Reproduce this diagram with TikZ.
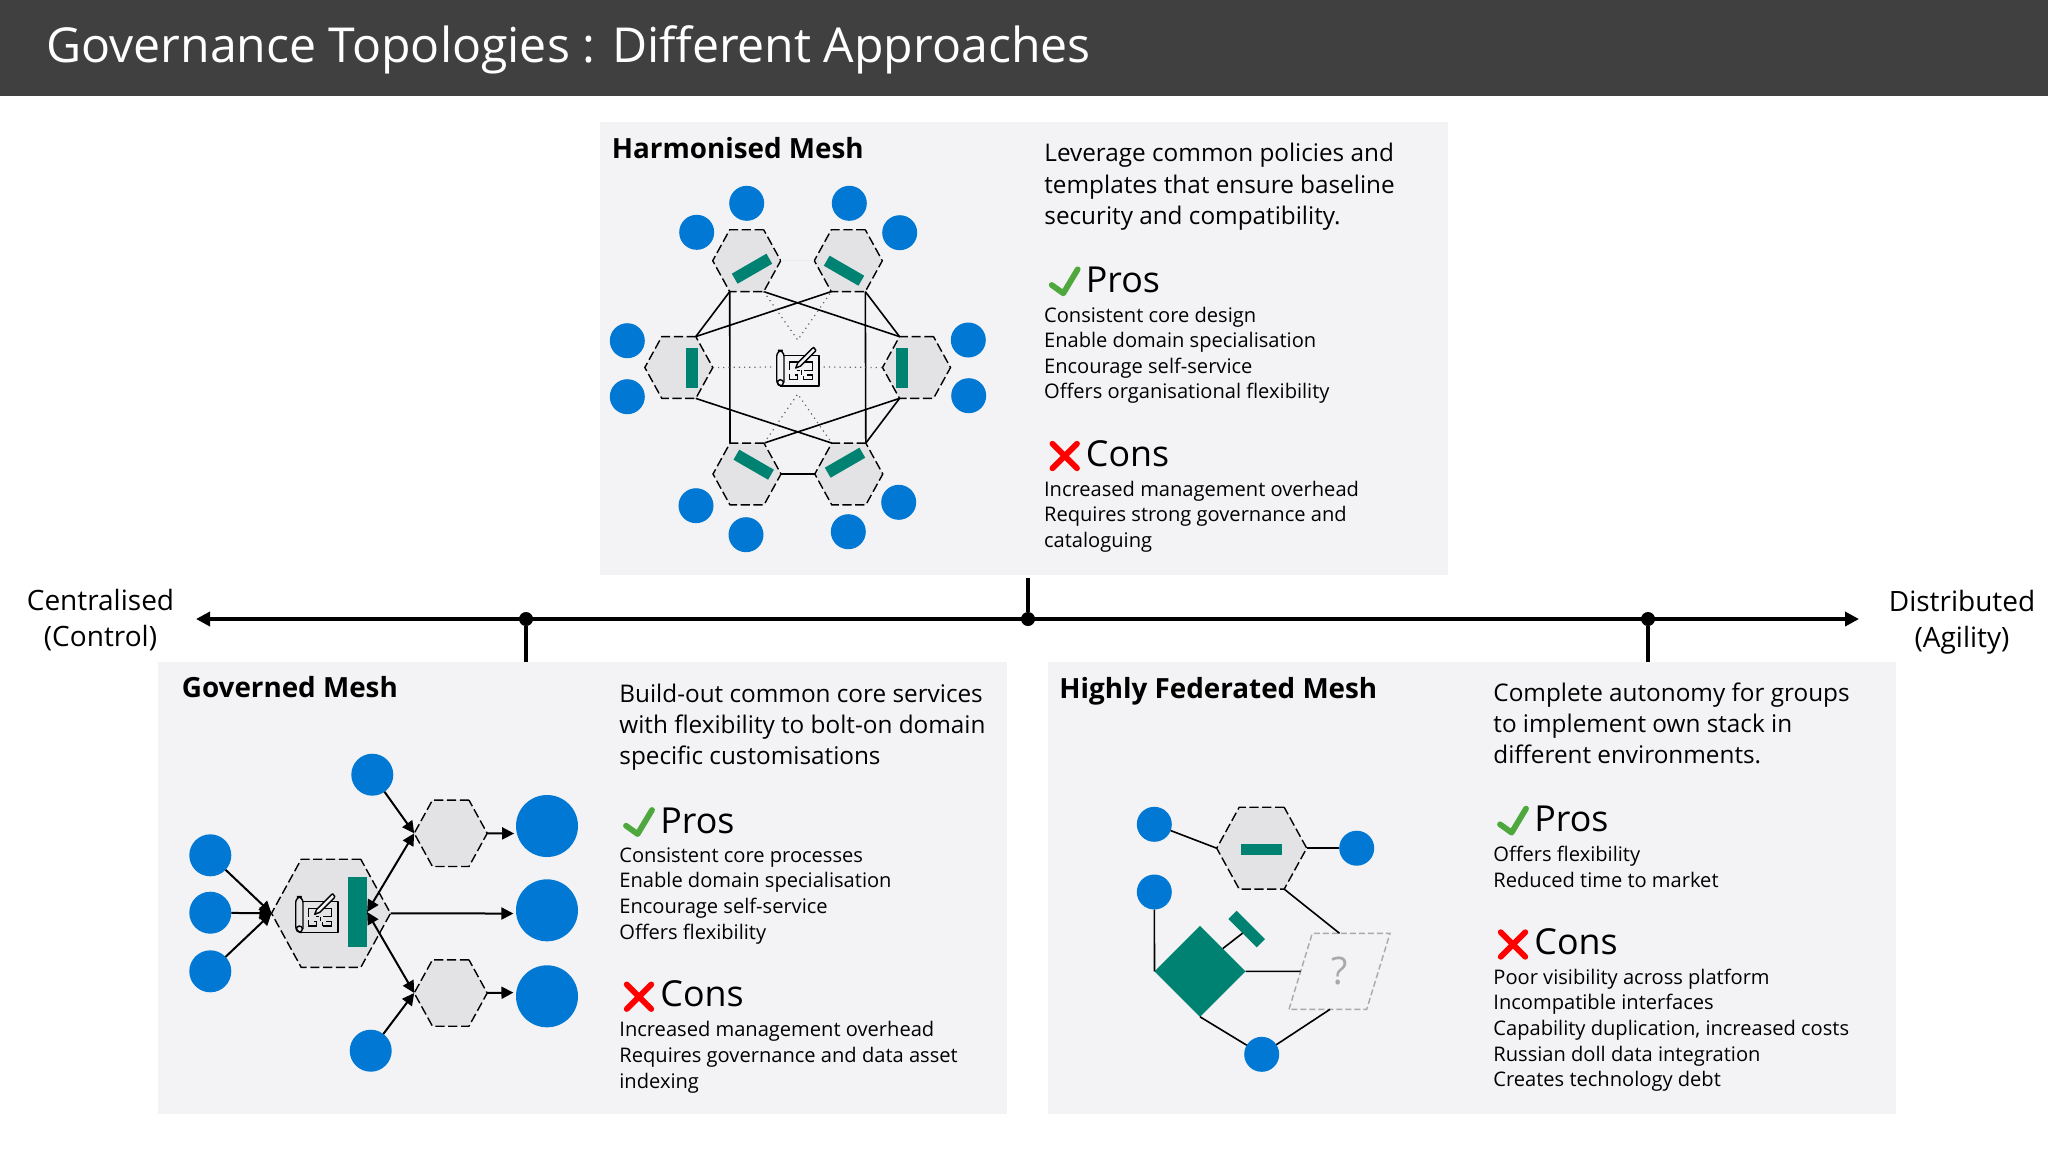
\documentclass[tikz,border=0pt]{standalone}
\usepackage{fontspec}
\usepackage{xcolor}
\usetikzlibrary{arrows.meta,shapes.geometric,calc}
\setmainfont{Open Sans}
\definecolor{titlebar}{HTML}{404040}
\definecolor{panelbg}{HTML}{F3F3F5}
\definecolor{hexbg}{HTML}{E3E3E5}
\definecolor{meshblue}{HTML}{0078D4}
\definecolor{meshgreen}{HTML}{008272}
\definecolor{okgreen}{HTML}{4FA83D}
\definecolor{unknown}{HTML}{A9A9A9}
\tikzset{
  panel/.style={rectangle, fill=panelbg, inner sep=0pt, outer sep=0pt},
  hexa/.style={regular polygon, regular polygon sides=6, draw=black,
    fill=hexbg, line width=0.7pt, dash pattern=on 4.6pt off 1.8pt, inner sep=0pt, outer sep=0pt,
    minimum size=#1, transform shape, yscale=1.05},
  bubble/.style={circle, fill=meshblue, inner sep=0pt, outer sep=0pt, minimum size=#1},
  greenbar/.style={rectangle, fill=meshgreen, inner sep=0pt, outer sep=0pt},
  conn/.style={draw=black, line width=0.8pt},
  guide/.style={draw=black!60, line width=0.6pt, dotted},
  flow/.style={draw=black, line width=1pt, -{Triangle[length=6pt,width=6pt]}},
  axisline/.style={draw=black, line width=2pt},
  axisdot/.style={circle, fill=black, inner sep=0pt, outer sep=0pt, minimum size=7pt},
  heading/.style={anchor=base west, inner sep=0pt, font=\fontsize{13.9}{16}\selectfont\bfseries},
  blurb/.style={anchor=north west, align=left, inner sep=0pt, font=\fontsize{12.15}{15.6}\selectfont},
  proshead/.style={anchor=base west, inner sep=0pt, font=\fontsize{17.9}{20}\selectfont},
  listing/.style={anchor=north west, align=left, inner sep=0pt, font=\fontsize{10.05}{12.8}\selectfont},
  axislab/.style={align=center, inner sep=0pt, font=\fontsize{14}{18}\selectfont},
  okmark/.pic={\draw[okgreen, line width=2.9pt, line cap=round, line join=round]
    (7,-6.7) -- (18.6,1.6) -- (33,-22.4);},
  nomark/.pic={\draw[red, line width=2.9pt, line cap=round]
    (7.7,-22.3) -- (32.3,2.3) (32.3,-22.3) -- (7.7,2.3);},
  planmark/.pic={
    \draw[line width=0.7pt, line join=round]
      (-13.7,-11.7) -- (21.3,-11.7) -- (21.3,19) -- (-17.3,19);
    \draw[line width=0.7pt, rounded corners=3pt]
      (-13.7,15.7) -- (-13.7,-16.7) -- (-21,-16.7) -- (-21,19) -- (-17.3,19);
    \draw[line width=0.7pt] (-17.3,15.7) circle[radius=3];
    \draw[line width=0.7pt]
      (-8.3,3.3) -- (-8.3,-5) -- (15,-5) -- (15,3.3) -- (6,3.3)
      (2,3.3) -- (-1,3.3) (3.5,3.3) -- (3.5,8)
      (-8.3,7) -- (-8.3,12.7) -- (0,12.7) -- (0,8) -- (-3,8)
      (6,12.7) -- (15,12.7) -- (15,8) -- (9,8) (6,12.7) -- (6,9);
    \draw[line width=0.7pt, fill=panelbg, line join=round]
      (-2,1) -- (0,-4) -- (14.5,-18.5) -- (16,-19.5) -- (18,-17) -- (17.5,-15.5) -- (3,-1) -- cycle;
  },
}

\begin{document}
\begin{tikzpicture}[x=0.5pt, y=-0.5pt]
  \useasboundingbox (0,0) rectangle (2048,1152);

  % title
  \fill[titlebar] (0,0) rectangle (2048,96);
  \node[anchor=west, inner sep=0pt, text=white, font=\fontsize{24.1}{30}\selectfont] (mainTitle) at (46,50) {Governance Topologies : Different Approaches};

  % panels
  \node[panel, minimum width=424pt, minimum height=226.5pt] (panelH) at (1024,348.5) {};
  \node[panel, minimum width=424.5pt, minimum height=226pt] (panelG) at (582.5,888) {};
  \node[panel, minimum width=424pt, minimum height=226pt] (panelF) at (1471.5,888) {};

  % centralised - distributed axis
  \coordinate (axisL) at (196,619);
  \coordinate (axisR) at (1859,619);
  \draw[axisline, {Triangle[length=7pt,width=7pt]}-{Triangle[length=7pt,width=7pt]}] (axisL) -- (axisR);
  \node[axisdot] (dotG) at (526,619) {};
  \node[axisdot] (dotH) at (1028,619) {};
  \node[axisdot] (dotF) at (1648,619) {};
  \draw[axisline] (dotG) -- (dotG |- panelG.north);
  \draw[axisline] (dotH) -- ($(dotH |- panelH.south)+(0,3)$);
  \draw[axisline] (dotF) -- (dotF |- panelF.north);
  \node[axislab] (labL) at (100.5,620) {Centralised\\(Control)};
  \node[axislab] (labR) at (1962,622) {Distributed\\(Agility)};

  % harmonised mesh
  \foreach \nm/\x/\y in {hxTL/746.7/260.7, hxTR/848.3/260.7, hxL/678.8/367.5, hxR/916.5/367.5, hxBL/747/474, hxBR/848.8/474}
    \node[hexa=34pt] (\nm) at (\x,\y) {};
  \foreach \nm/\x/\y in {h1/746.7/203.3, h2/696.7/232.3, h3/849.3/203.3, h4/899.7/232.7, h5/627.3/340.7, h6/627.3/396.7,
    h7/968.3/340, h8/968.7/395.7, h9/696/505.7, h10/746/534.7, h11/898.7/502.3, h12/848.3/531.7}
    \node[bubble=17.5pt] (\nm) at (\x,\y) {};
  \foreach \nm/\x/\y/\r in {barTL/752/268.7/30, barTR/844/270.7/-30, barL/691.7/368.3/90, barR/902/368.3/90, barBL/753.7/464.7/-30, barBR/845/462.7/30}
    \node[greenbar, minimum width=20pt, minimum height=5.8pt, rotate=\r] (\nm) at (\x,\y) {};
  \node[minimum width=26pt, minimum height=27pt, inner sep=0pt, outer sep=0pt] (planC) at (797.7,367) {};
  \pic at (planC.center) {planmark};

  \draw[conn] (hxTL.corner 4) -- (hxL.corner 1);
  \draw[conn] (hxTL.corner 4) -- (hxBL.corner 2);
  \draw[conn] (hxTL.corner 5) -- (hxR.corner 2);
  \draw[conn] (hxTR.corner 4) -- (hxL.corner 1);
  \draw[conn] (hxTR.corner 5) -- (hxR.corner 2);
  \draw[conn] (hxTR.corner 5) -- (hxBR.corner 1);
  \draw[conn] (hxL.corner 5) -- (hxBR.corner 2);
  \draw[conn] (hxR.corner 4) -- (hxBL.corner 1);
  \draw[conn] (hxR.corner 4) -- (hxBR.corner 1);
  \draw[conn] (hxBL.corner 6) -- (hxBR.corner 3);
  \draw[guide] (hxTL.corner 5) -- (planC.north) -- (hxTR.corner 4);
  \draw[guide] (hxBL.corner 1) -- (planC.south) -- (hxBR.corner 2);
  \draw[guide] (hxL.corner 6) -- (planC.west);
  \draw[guide] (planC.east) -- (hxR.corner 3);
  \draw[draw=black!8, line width=0.5pt] (hxTL.corner 6) -- (hxTR.corner 3);

  \node[heading] (titleH) at (611.5,158) {Harmonised Mesh};
  \node[blurb] (blurbH) at (1044,143) {Leverage common policies and\\templates that ensure baseline\\security and compatibility.};
  \pic at (1044.7,291.7) {okmark};
  \node[proshead] (prosH) at (1085.5,292.5) {Pros};
  \node[listing] (prosListH) at (1043.7,306.5) {Consistent core design\\Enable domain specialisation\\Encourage self-service\\Offers organisational flexibility};
  \pic at (1044.7,466) {nomark};
  \node[proshead] (consH) at (1085.5,466) {Cons};
  \node[listing] (consListH) at (1043.7,480.5) {Increased management overhead\\Requires strong governance and\\cataloguing};

  % governed mesh
  \node[hexa=59.5pt] (hxM) at (331,913.3) {};
  \node[hexa=36.5pt] (hxU) at (450.7,833.3) {};
  \node[hexa=36.5pt] (hxD) at (450.7,993) {};
  \foreach \nm/\x/\y in {gL1/210.3/855.3, gL2/210.3/912.7, gL3/210.3/971.3, gT/372.3/774.7, gB/370.7/1050.7}
    \node[bubble=21pt] (\nm) at (\x,\y) {};
  \foreach \nm/\x/\y in {gR1/547/826, gR2/547/910.3, gR3/547/996.3}
    \node[bubble=31pt] (\nm) at (\x,\y) {};
  \node[greenbar, minimum width=9.4pt, minimum height=35.4pt] (barM) at (357.7,912) {};
  \pic at (316.7,913.3) {planmark};

  \draw[flow] (gL1) -- (hxM.corner 3);
  \draw[flow] (gL2) -- (hxM.corner 3);
  \draw[flow] (gL3) -- (hxM.corner 3);
  \draw[flow] (gT) -- (hxU.corner 3);
  \draw[flow] (gB) -- (hxD.corner 3);
  \draw[flow, {Triangle[length=6pt,width=6pt]}-{Triangle[length=6pt,width=6pt]}] (barM.east) -- (hxU.corner 3);
  \draw[flow, {Triangle[length=6pt,width=6pt]}-{Triangle[length=6pt,width=6pt]}] (barM.east) -- (hxD.corner 3);
  \draw[flow, shorten >=1.4pt] (hxM.corner 6) -- (gR2.-174.5);
  \draw[flow, shorten >=1.4pt] (hxU.corner 6) -- (gR1.-166.3);
  \draw[flow, shorten >=1.4pt] (hxD.corner 6) -- (gR3.173.8);

  \node[heading] (titleG) at (181.5,697) {Governed Mesh};
  \node[blurb] (blurbG) at (619,683.5) {Build-out common core services\\with flexibility to bolt-on domain\\specific customisations};
  \pic at (619,832.4) {okmark};
  \node[proshead] (prosG) at (660,833.2) {Pros};
  \node[listing] (prosListG) at (619,847.2) {Consistent core processes\\Enable domain specialisation\\Encourage self-service\\Offers flexibility};
  \pic at (619,1006.7) {nomark};
  \node[proshead] (consG) at (660,1006.7) {Cons};
  \node[listing] (consListG) at (619,1021.2) {Increased management overhead\\Requires governance and data asset\\indexing};

  % highly federated mesh
  \node[hexa=45pt] (hxF) at (1261.7,848.2) {};
  \foreach \nm/\x/\y in {fA/1154.3/824.3, fB/1356.7/848.2, fC/1154.3/892, fD/1261.7/1054.3}
    \node[bubble=17.5pt] (\nm) at (\x,\y) {};
  \node[greenbar, minimum width=20.5pt, minimum height=5.8pt] (barF) at (1261,849.3) {};
  \node[diamond, fill=meshgreen, inner sep=0pt, outer sep=0pt, minimum size=45.5pt] (diaF) at (1200,971.3) {};
  \node[greenbar, minimum width=20pt, minimum height=5.8pt, rotate=-45] (barT) at (1246.7,929) {};
  \node[trapezium, trapezium left angle=76, trapezium right angle=104, trapezium stretches=true, draw=unknown,
    line width=0.7pt, dash pattern=on 3pt off 1.5pt, inner sep=0pt, outer sep=0pt, minimum width=50.5pt, minimum height=38pt,
    text=unknown, font=\fontsize{19}{21}\selectfont] (paraF) at (1339.5,971.3) {?};

  \draw[conn] (fA) -- (hxF.corner 3);
  \draw[conn] (hxF.corner 6) -- (fB);
  \draw[conn] (hxF.corner 5) -- (paraF.north);
  \draw[conn] (fC) -- (diaF.west);
  \draw[conn] (diaF.north east) -- (barT.south);
  \draw[conn] (diaF.east) -- (paraF.west);
  \draw[conn] (diaF.south) -- (fD);
  \draw[conn] (fD) -- (paraF.-104);

  \node[heading] (titleF) at (1059,698) {Highly Federated Mesh};
  \node[blurb] (blurbF) at (1493,682) {Complete autonomy for groups\\to implement own stack in\\different environments.};
  \pic at (1493,831) {okmark};
  \node[proshead] (prosF) at (1534,831.8) {Pros};
  \node[listing] (prosListF) at (1493,845.8) {Offers flexibility\\Reduced time to market};
  \pic at (1493,954.5) {nomark};
  \node[proshead] (consF) at (1534,954.5) {Cons};
  \node[listing] (consListF) at (1493,968.5) {Poor visibility across platform\\Incompatible interfaces\\Capability duplication, increased costs\\Russian doll data integration\\Creates technology debt};
\end{tikzpicture}
\end{document}
